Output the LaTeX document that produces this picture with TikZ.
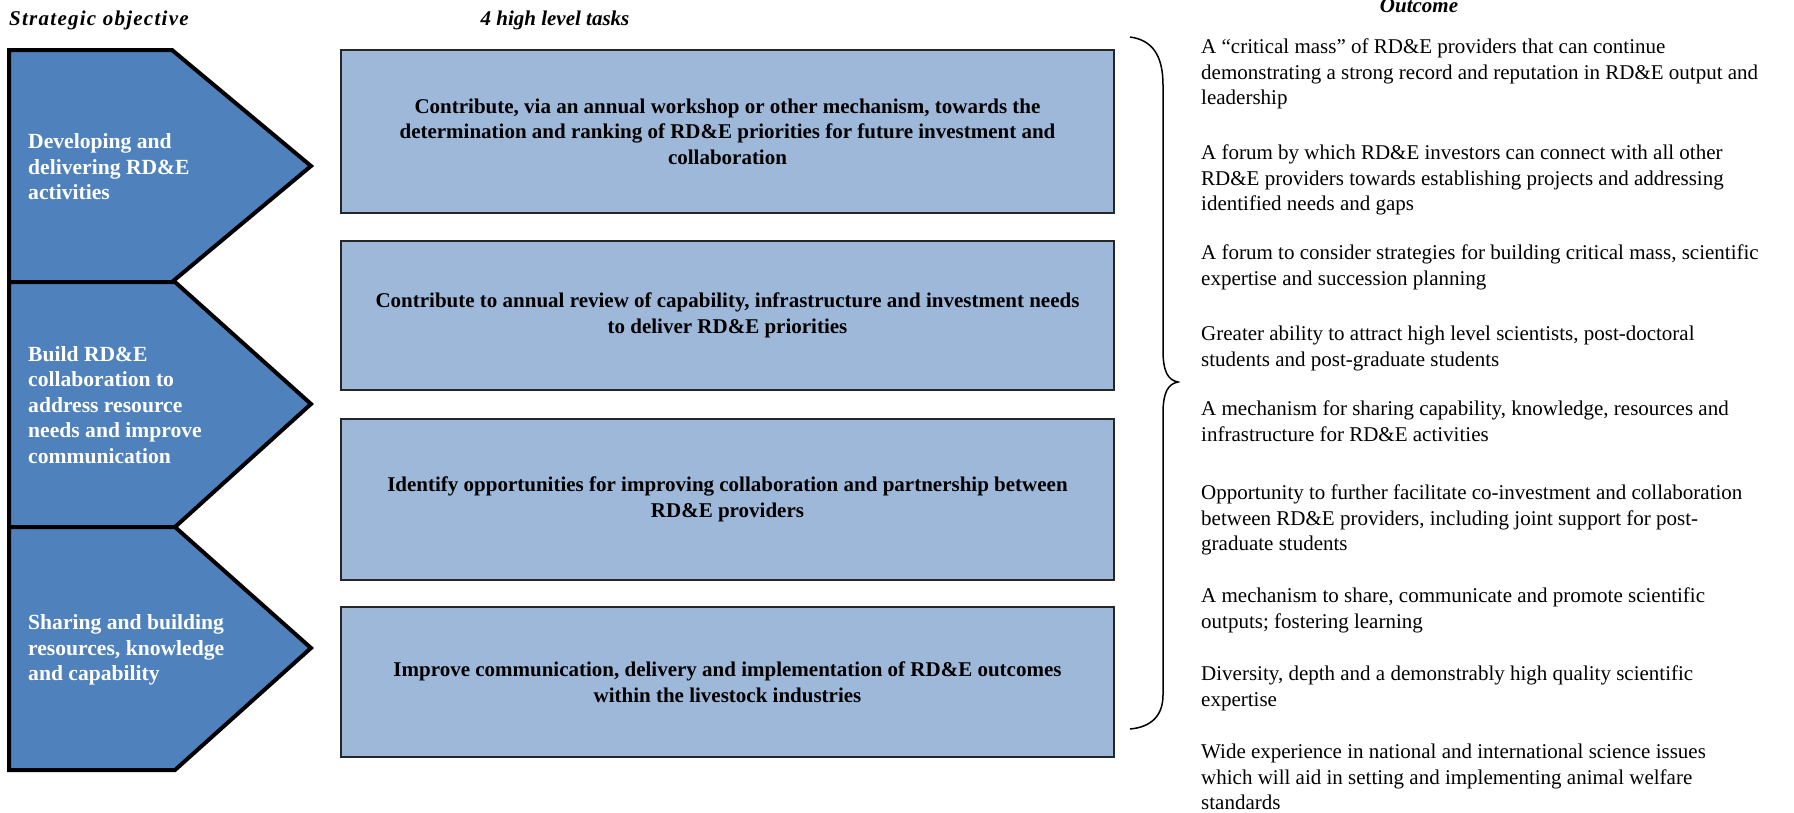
\documentclass[tikz,border=0pt]{standalone}
\usepackage{fontspec}
\setmainfont{Liberation Serif}
\definecolor{pentblue}{RGB}{79,129,189}
\definecolor{taskfill}{RGB}{158,184,217}
\begin{document}
\begin{tikzpicture}[x=1pt,y=-1pt,
  pentagon/.style={fill=pentblue, draw=black, line width=4pt, line join=miter},
  taskbox/.style={fill=taskfill, draw=black!85, line width=1.5pt, minimum width=773pt,
    font=\fontsize{21}{25.5}\selectfont\bfseries, align=center, inner sep=0pt},
  pentext/.style={anchor=west, text=white, font=\fontsize{21.6}{25.5}\selectfont\bfseries, align=left, inner sep=0pt},
  header/.style={font=\fontsize{21}{24}\selectfont\bfseries\itshape, inner sep=0pt},
  outtext/.style={anchor=north west, font=\fontsize{21}{25.5}\selectfont, align=left, inner sep=0pt},
  bracestyle/.style={draw=black, line width=1.5pt},
]
\useasboundingbox (0,0) rectangle (1794,812);

% headers
\node[header, anchor=west] (h1) at (9,20) {\addfontfeature{LetterSpace=6}Strategic objective};
\node[header] (h2) at (555,20) {4 high level tasks};
\node[header] (h3) at (1419,6) {Outcome};

% pentagons
\draw[pentagon] (9,50) -- (172,50) -- (311,166) -- (172,282) -- (9,282) -- cycle;
\draw[pentagon] (9,282) -- (175,282) -- (311,404) -- (175,527) -- (9,527) -- cycle;
\draw[pentagon] (9,527) -- (175,527) -- (311,648) -- (175,770) -- (9,770) -- cycle;

\node[pentext] (p1) at (28,167) {Developing and\\delivering RD\&E\\activities};
\node[pentext] (p2) at (28,405) {Build RD\&E\\collaboration to\\address resource\\needs and improve\\communication};
\node[pentext] (p3) at (28,650) {Sharing and building\\resources, knowledge\\and capability};

% task boxes
\node[taskbox, minimum height=163pt] (t1) at (727.5,131.5) {Contribute, via an annual workshop or other mechanism, towards the\\determination and ranking of RD\&E priorities for future investment and\\collaboration};
\node[taskbox, minimum height=149pt] (t2) at (727.5,315.5) {Contribute to annual review of capability, infrastructure and investment needs\\to deliver RD\&E priorities};
\node[taskbox, minimum height=161pt] (t3) at (727.5,499.5) {Identify opportunities for improving collaboration and partnership between\\RD\&E providers};
\node[taskbox, minimum height=150pt] (t4) at (727.5,682) {Improve communication, delivery and implementation of RD\&E outcomes\\within the livestock industries};

% brace
\draw[bracestyle] (1130,37) .. controls (1152,40) and (1163,55) .. (1163,85)
  -- (1163,350) .. controls (1163,372) and (1168,380) .. (1178,382)
  .. controls (1168,384) and (1163,392) .. (1163,414)
  -- (1163,695) .. controls (1163,715) and (1152,727) .. (1130,729);

% outcomes
\node[outtext] (o1) at (1201,38.8) {A “critical mass” of RD\&E providers that can continue\\demonstrating a strong record and reputation in RD\&E output and\\leadership};
\node[outtext] (o2) at (1201,144.8) {A forum by which RD\&E investors can connect with all other\\RD\&E providers towards establishing projects and addressing\\identified needs and gaps};
\node[outtext] (o3) at (1201,244.8) {A forum to consider strategies for building critical mass, scientific\\expertise and succession planning};
\node[outtext] (o4) at (1201,325.8) {Greater ability to attract high level scientists, post-doctoral\\students and post-graduate students};
\node[outtext] (o5) at (1201,400.8) {A mechanism for sharing capability, knowledge, resources and\\infrastructure for RD\&E activities};
\node[outtext] (o6) at (1201,484.8) {Opportunity to further facilitate co-investment and collaboration\\between RD\&E providers, including joint support for post-\\graduate students};
\node[outtext] (o7) at (1201,587.8) {A mechanism to share, communicate and promote scientific\\outputs; fostering learning};
\node[outtext] (o8) at (1201,665.8) {Diversity, depth and a demonstrably high quality scientific\\expertise};
\node[outtext] (o9) at (1201,744) {Wide experience in national and international science issues\\which will aid in setting and implementing animal welfare\\standards};
\end{tikzpicture}
\end{document}
